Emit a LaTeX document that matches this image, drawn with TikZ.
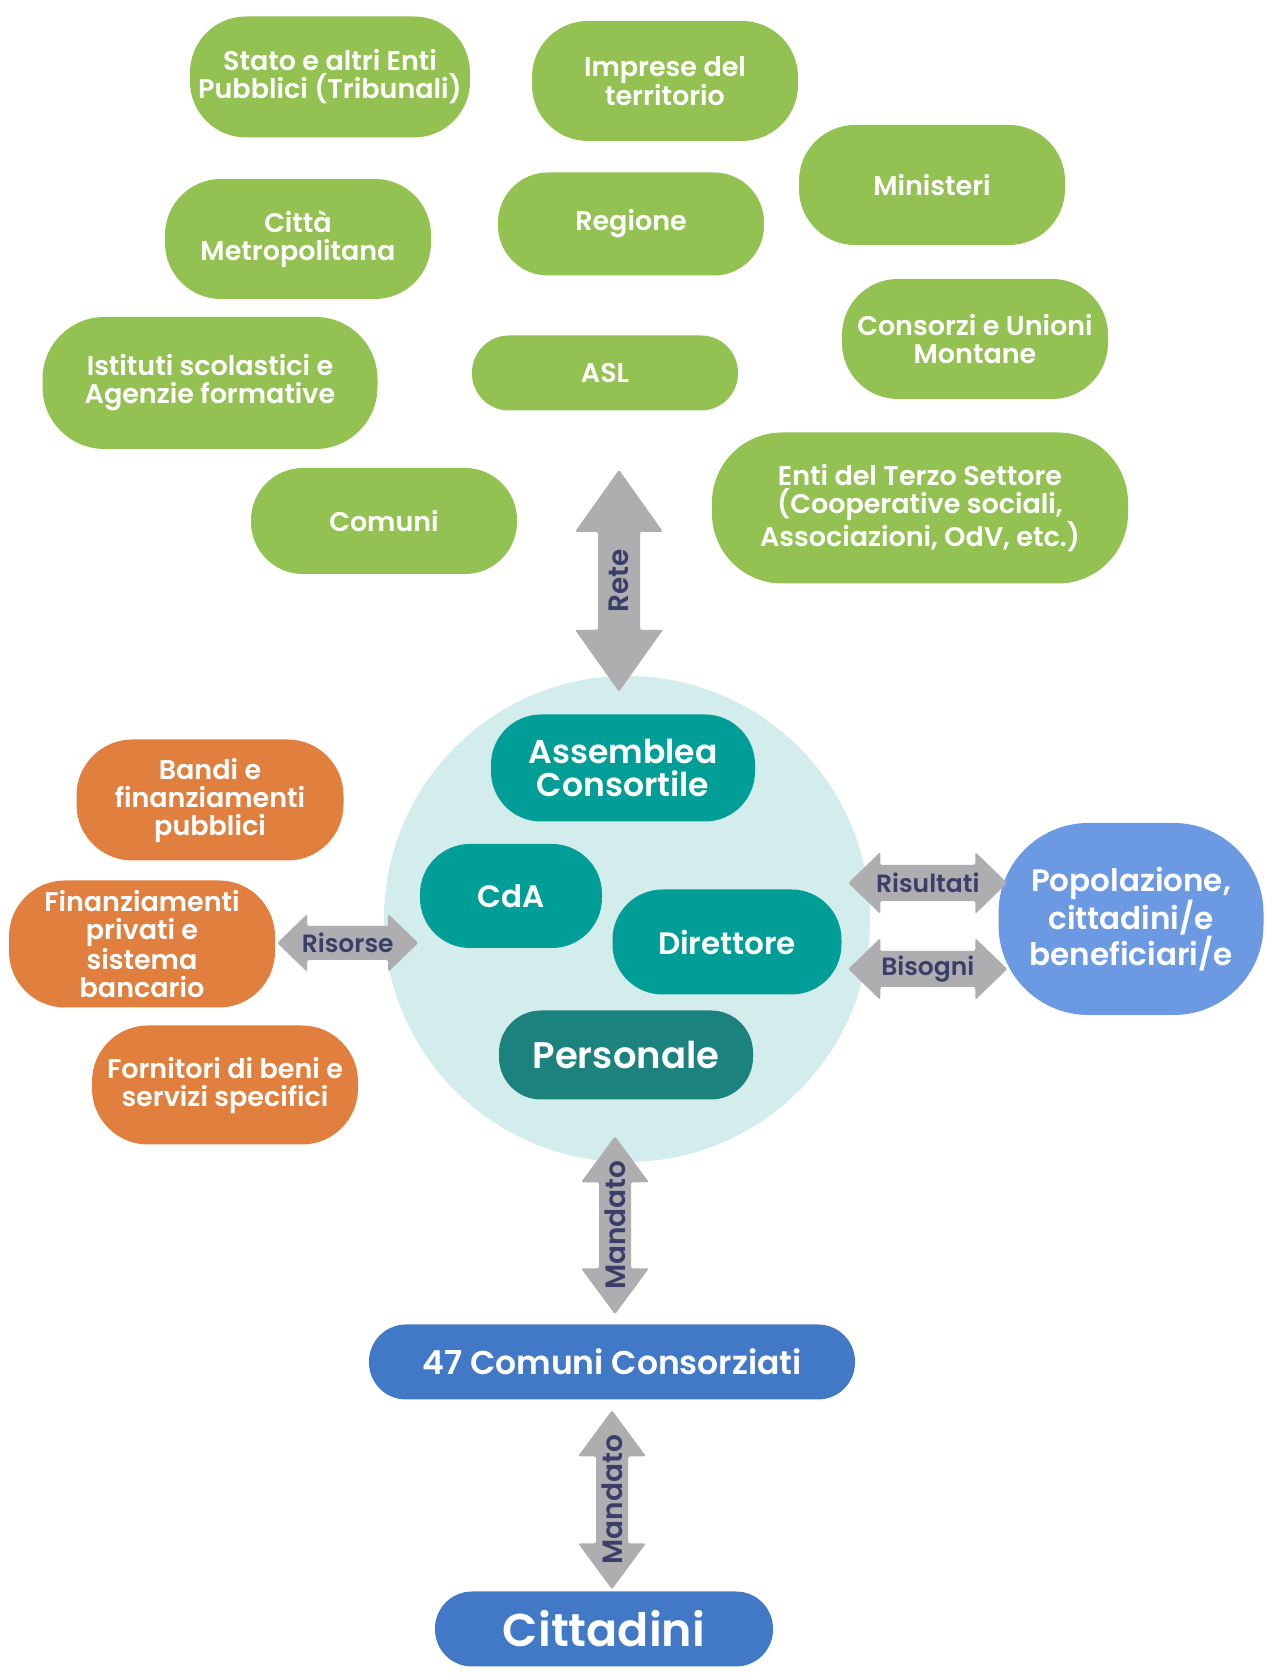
\documentclass[tikz,border=0pt]{standalone}
\usepackage{fontspec}
\setmainfont{Poppins}[UprightFont=* SemiBold]
\usetikzlibrary{calc}
\tikzset{>=latex}
\definecolor{enteGreen}{HTML}{93C252}
\definecolor{fondoOrange}{HTML}{E07F3E}
\definecolor{organoTeal}{HTML}{009E96}
\definecolor{staffTeal}{HTML}{1B827D}
\definecolor{cerchioCyan}{HTML}{D3ECEC}
\definecolor{comuniBlue}{HTML}{4279C7}
\definecolor{utentiBlue}{HTML}{6B99E2}
\definecolor{frecciaGray}{HTML}{AEAEB0}
\definecolor{tagNavy}{HTML}{3B3E68}
\tikzstyle{box}=[rectangle,text=white,align=center,inner sep=0pt,font=\fontsize{27}{28}\selectfont]
\tikzstyle{ente}=[box,fill=enteGreen,rounded corners=56pt,minimum width=266pt,minimum height=120pt]
\tikzstyle{fondo}=[box,fill=fondoOrange,rounded corners=56pt,minimum width=266pt,minimum height=120pt]
\tikzstyle{organo}=[box,fill=organoTeal,rounded corners=50pt,font=\fontsize{31}{34}\selectfont]
\tikzstyle{socio}=[box,fill=comuniBlue,rounded corners=37pt,minimum height=75pt]
\tikzstyle{freccia}=[fill=frecciaGray,rounded corners=2pt]
\tikzstyle{tag}=[text=tagNavy,inner sep=0pt,font=\fontsize{25}{28}\selectfont]
% fat double arrow: [label opts]{from}{to}{label}{shaft width}{head width}{head length}
\newcommand\fatarrow[7][]{{
  \pgfmathanglebetweenpoints{\pgfpointanchor{#2}{center}}{\pgfpointanchor{#3}{center}}
  \edef\ang{\pgfmathresult} % angle of the arrow
  \coordinate (tmpH) at ($(#2)+(\ang:#7)$); % base of tail head
  \coordinate (tmpK) at ($(#3)-(\ang:#7)$); % base of front head
  \fill[freccia]
    (#2) -- ($(tmpH)+(\ang+90:#6/2)$) -- ($(tmpH)+(\ang+90:#5/2)$)
    -- ($(tmpK)+(\ang+90:#5/2)$) -- ($(tmpK)+(\ang+90:#6/2)$)
    -- (#3) -- ($(tmpK)-(\ang+90:#6/2)$) -- ($(tmpK)-(\ang+90:#5/2)$)
    -- ($(tmpH)-(\ang+90:#5/2)$) -- ($(tmpH)-(\ang+90:#6/2)$) -- cycle;
  \node[tag,rotate=\ang,#1] at ($(#2)!0.5!(#3)$) {#4};
}}

\begin{document}
\begin{tikzpicture}[x=1pt,y=1pt]
  \useasboundingbox (0,0) rectangle (1264,1675);
  \fill[white] (0,0) rectangle (1264,1675);

  % RETE
  \node[ente,minimum width=280pt,minimum height=121pt] (stato) at (330,1598) {Stato e altri Enti\\Pubblici (Tribunali)};
  \node[ente] (imprese) at (665,1594) {Imprese del\\territorio};
  \node[ente] (ministeri) at (932,1490) {Ministeri};
  \node[ente] (citta) at (298,1436) {Città\\Metropolitana};
  \node[ente,minimum height=103pt,rounded corners=50pt] (regione) at (631,1451) {Regione};
  \node[ente] (consorzi) at (975,1336) {Consorzi e Unioni\\Montane};
  \node[ente,minimum width=335pt,minimum height=132pt,rounded corners=62pt] (istituti) at (210,1292) {Istituti scolastici e\\Agenzie formative};
  \node[ente,minimum height=75pt,rounded corners=37pt] (asl) at (605,1302) {ASL};
  \node[ente,minimum height=106pt,rounded corners=52pt] (comuni) at (384,1154) {Comuni};
  \node[ente,minimum width=416pt,minimum height=151pt,rounded corners=70pt] (terzo) at (920,1167) {Enti del Terzo Settore\\(Cooperative sociali,\\Associazioni, OdV, etc.)};

  % CONSORZIO
  \node[circle,fill=cerchioCyan,minimum size=486pt,inner sep=0pt] (circ) at (627,756) {};
  \node[organo,minimum width=264pt,minimum height=107pt,font=\fontsize{33}{33}\selectfont] (assemblea) at (623,907) {Assemblea\\Consortile};
  \node[organo,minimum width=182pt,minimum height=104pt] (cda) at (511,779) {CdA};
  \node[organo,minimum width=229pt,minimum height=105pt] (direttore) at (727,733) {Direttore};
  \node[organo,fill=staffTeal,minimum width=254pt,minimum height=89pt,rounded corners=42pt,font=\fontsize{37}{40}\selectfont] (personale) at (626,620) {Personale};

  % RISORSE
  \node[fondo,minimum width=267pt,minimum height=121pt] (bandi) at (210,875) {Bandi e\\finanziamenti\\pubblici};
  \node[fondo,minimum height=127pt] (finpriv) at (142,731) {Finanziamenti\\privati e\\sistema\\bancario};
  \node[fondo,minimum height=119pt] (fornitori) at (225,590) {Fornitori di beni e\\servizi specifici};

  % UTENTI
  \node[box,fill=utentiBlue,rounded corners=90pt,minimum width=265pt,minimum height=192pt,font=\fontsize{31}{29}\selectfont] (popol) at (1131,756) {Popolazione,\\cittadini/e\\beneficiari/e};
  \node[socio,minimum width=486pt,font=\fontsize{33}{36}\selectfont] (comcons) at (612,313) {47 Comuni Consorziati};
  \node[socio,minimum width=338pt,font=\fontsize{46}{50}\selectfont] (cittad) at (604,46) {Cittadini};

  % ARROWS
  \path (circ.north) ++(-8,-16) coordinate (reteA) ++(0,222) coordinate (reteB);
  \path (finpriv.east) ++(2,1) coordinate (risA) ++(141,0) coordinate (risB);
  \path (popol.west) ++(9,36) coordinate (risuB) ++(-159,0) coordinate (risuA);
  \path (popol.west) ++(9,-50) coordinate (bisB) ++(-159,0) coordinate (bisA);
  \path (comcons.north) ++(3,10) coordinate (manA) ++(0,178) coordinate (manB);
  \path (cittad.north) ++(8,2) coordinate (man2A) ++(0,179) coordinate (man2B);
  \fatarrow[font=\fontsize{28}{30}\selectfont]{reteA}{reteB}{Rete}{42}{88}{62}
  \fatarrow{risA}{risB}{Risorse}{34}{58}{30}
  \fatarrow{risuA}{risuB}{Risultati}{36}{62}{32}
  \fatarrow{bisA}{bisB}{Bisogni}{36}{62}{32}
  \fatarrow[font=\fontsize{28}{30}\selectfont]{manA}{manB}{Mandato}{32}{68}{46}
  \fatarrow[font=\fontsize{28}{30}\selectfont]{man2A}{man2B}{Mandato}{32}{68}{46}
\end{tikzpicture}
\end{document}
